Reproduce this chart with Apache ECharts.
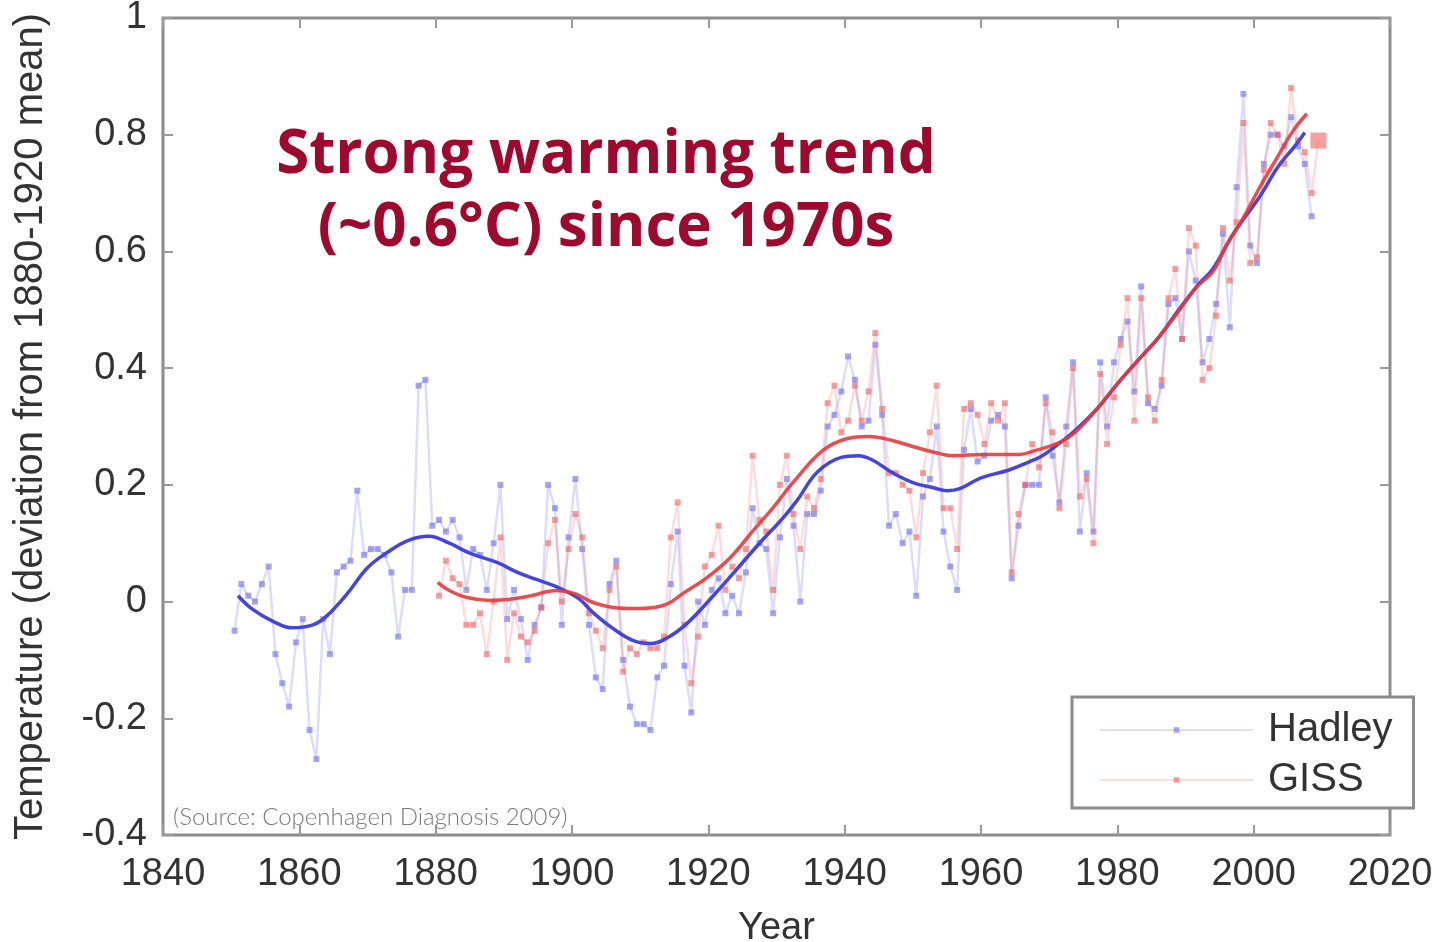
<!DOCTYPE html>
<html>
<head>
<meta charset="utf-8">
<script src="https://cdn.jsdelivr.net/npm/echarts@6/dist/echarts.min.js"></script>
<style>
  html, body { margin: 0; padding: 0; background: #ffffff; }
  #chart { width: 1438px; height: 942px; }
</style>
</head>
<body>
<div id="chart"></div>
<script>
// Annual global temperature anomalies (deg C, relative to the 1880-1920 mean)
const hadleyStartYear = 1850;
const hadleyValues = [
  -0.05, 0.03, 0.01, 0.00, 0.03, 0.06, -0.09, -0.14, -0.18, -0.07,   // 1850s
  -0.03, -0.22, -0.27, -0.03, -0.09, 0.05, 0.06, 0.07, 0.19, 0.08,   // 1860s
  0.09, 0.09, 0.08, 0.05, -0.06, 0.02, 0.02, 0.37, 0.38, 0.13,       // 1870s
  0.14, 0.12, 0.14, 0.11, 0.02, 0.09, 0.08, 0.02, 0.10, 0.20,        // 1880s
  -0.03, 0.02, -0.03, -0.10, -0.04, -0.01, 0.20, 0.16, -0.04, 0.11,  // 1890s
  0.21, 0.09, -0.04, -0.13, -0.15, 0.03, 0.07, -0.10, -0.18, -0.21,  // 1900s
  -0.21, -0.22, -0.13, -0.11, 0.03, 0.12, -0.11, -0.19, 0.00, -0.04, // 1910s
  0.02, 0.04, -0.02, 0.01, -0.02, 0.05, 0.16, 0.10, 0.09, -0.02,     // 1920s
  0.11, 0.21, 0.13, 0.00, 0.15, 0.15, 0.19, 0.30, 0.32, 0.36,        // 1930s
  0.42, 0.38, 0.30, 0.31, 0.44, 0.32, 0.13, 0.15, 0.10, 0.12,        // 1940s
  0.01, 0.18, 0.21, 0.30, 0.12, 0.06, 0.02, 0.26, 0.33, 0.24,        // 1950s
  0.25, 0.31, 0.32, 0.30, 0.04, 0.13, 0.20, 0.20, 0.20, 0.35,        // 1960s
  0.25, 0.17, 0.30, 0.41, 0.12, 0.22, 0.12, 0.41, 0.30, 0.41,        // 1970s
  0.45, 0.48, 0.36, 0.54, 0.34, 0.33, 0.37, 0.51, 0.52, 0.45,        // 1980s
  0.60, 0.55, 0.41, 0.45, 0.51, 0.63, 0.47, 0.71, 0.87, 0.61,        // 1990s
  0.58, 0.75, 0.80, 0.80, 0.78, 0.83, 0.78, 0.75, 0.66               // 2000s
];

const gissStartYear = 1880;
const gissValues = [
  0.01, 0.07, 0.04, 0.03, -0.04, -0.04, -0.02, -0.09, 0.00, 0.11,    // 1880s
  -0.10, -0.02, -0.06, -0.07, -0.05, -0.01, 0.10, 0.14, 0.00, 0.09,  // 1890s
  0.15, 0.11, -0.02, -0.05, -0.08, 0.02, 0.06, -0.12, -0.08, -0.09,  // 1900s
  -0.07, -0.08, -0.08, -0.06, 0.11, 0.17, -0.04, -0.14, -0.06, 0.06, // 1910s
  0.08, 0.13, 0.02, 0.06, 0.04, 0.09, 0.25, 0.14, 0.12, 0.02,        // 1920s
  0.20, 0.25, 0.15, 0.09, 0.18, 0.16, 0.21, 0.34, 0.37, 0.29,        // 1930s
  0.31, 0.37, 0.31, 0.36, 0.46, 0.33, 0.22, 0.22, 0.20, 0.19,        // 1940s
  0.11, 0.22, 0.29, 0.37, 0.16, 0.16, 0.09, 0.33, 0.34, 0.32,        // 1950s
  0.27, 0.34, 0.31, 0.34, 0.05, 0.15, 0.20, 0.27, 0.23, 0.34,        // 1960s
  0.29, 0.16, 0.27, 0.40, 0.18, 0.21, 0.10, 0.39, 0.27, 0.35,        // 1970s
  0.44, 0.52, 0.31, 0.52, 0.35, 0.31, 0.38, 0.52, 0.57, 0.45,        // 1980s
  0.64, 0.61, 0.38, 0.40, 0.49, 0.64, 0.55, 0.65, 0.82, 0.58,        // 1990s
  0.59, 0.74, 0.82, 0.80, 0.75, 0.88, 0.79, 0.77, 0.70, 0.79         // 2000s
];

// Smoothed trend curves
const hadleySmoothYears = [1851, 1853, 1856, 1859, 1862, 1864, 1867, 1870, 1873, 1876, 1879, 1882, 1885, 1889,
  1892, 1895, 1898, 1901, 1903, 1906, 1909, 1911.5, 1914, 1917, 1920.5, 1924, 1927.5, 1931, 1933, 1936,
  1939.5, 1942, 1944, 1947, 1950, 1953, 1955, 1957, 1960, 1964, 1967, 1969, 1971, 1973.5, 1977, 1980,
  1983, 1986, 1989, 1992, 1994, 1997, 2001, 2003.5, 2006, 2007.5];
const hadleySmoothValues = [0.01, -0.012, -0.033, -0.045, -0.04, -0.025, 0.013, 0.058, 0.085, 0.105, 0.112, 0.1, 0.083, 0.067,
  0.05, 0.037, 0.024, 0.005, -0.018, -0.046, -0.067, -0.072, -0.062, -0.036, 0.007, 0.053, 0.1, 0.144, 0.173, 0.222,
  0.247, 0.25, 0.243, 0.221, 0.204, 0.195, 0.19, 0.194, 0.212, 0.225, 0.239, 0.25, 0.267, 0.29, 0.33, 0.373,
  0.413, 0.452, 0.5, 0.545, 0.57, 0.63, 0.696, 0.744, 0.78, 0.804];

const gissSmoothYears = [1880.3, 1882, 1884.6, 1888, 1891.5, 1894, 1897.7, 1900.3, 1903.2, 1906, 1909.5, 1912, 1914,
  1916.3, 1919.8, 1923.2, 1926.6, 1929.5, 1932.5, 1936.8, 1940.3, 1943.6, 1947, 1950.5, 1953.4, 1955.8,
  1960.7, 1965.6, 1968, 1971.4, 1973.8, 1977, 1980, 1983, 1986, 1988.7, 1991.7, 1994, 1996, 1998.5,
  2000.9, 2003.4, 2005.8, 2007.8];
const gissSmoothValues = [0.033, 0.019, 0.007, 0.002, 0.005, 0.01, 0.019, 0.014, -0.002, -0.01, -0.012, -0.01, -0.004,
  0.014, 0.041, 0.075, 0.122, 0.161, 0.205, 0.259, 0.279, 0.283, 0.276, 0.264, 0.255, 0.25,
  0.252, 0.252, 0.259, 0.272, 0.29, 0.33, 0.373, 0.413, 0.452, 0.493, 0.54, 0.565, 0.61, 0.658,
  0.71, 0.76, 0.807, 0.836];

const xTickYears = [1840, 1860, 1880, 1900, 1920, 1940, 1960, 1980, 2000, 2020];
const yTickValues = [-0.4, -0.2, 0, 0.2, 0.4, 0.6, 0.8, 1];

// Annual means are plotted at the middle of each year
const annualPoints = (start, values) => values.map((v, i) => [start + i + 0.5, v]);
const pairs = (xs, ys) => xs.map((x, i) => [x, ys[i]]);

const gissPoints = annualPoints(gissStartYear, gissValues);
// the latest (partial-year) value is shown with a larger marker
gissPoints[gissPoints.length - 1] = { value: gissPoints[gissPoints.length - 1], symbolSize: 16 };

const FONT = '"Liberation Sans", Arial, Helvetica, sans-serif';
const FRAME = '#8c8c8c';

const chart = echarts.init(document.getElementById('chart'), null, { renderer: 'canvas' });

const tickStyle = { show: true, inside: true, length: 10, lineStyle: { color: '#9a9a9a', width: 2 } };
const hiddenLine = { show: false, onZero: false };

chart.setOption({
  animation: false,
  backgroundColor: '#ffffff',
  grid: {
    left: 163, top: 18, width: 1227, height: 817,
    outerBoundsMode: 'none', containLabel: false,
    show: true, borderColor: FRAME, borderWidth: 3, backgroundColor: 'transparent'
  },
  xAxis: [{
    type: 'value', min: xTickYears[0], max: xTickYears[xTickYears.length - 1], interval: 20,
    position: 'bottom',
    axisLine: hiddenLine, splitLine: { show: false }, axisTick: tickStyle,
    axisLabel: { fontSize: 38, color: '#333', fontFamily: FONT, margin: 21, formatter: v => String(v) },
    name: 'Year', nameLocation: 'middle', nameGap: 75,
    nameTextStyle: { fontSize: 38, color: '#333', fontFamily: FONT }
  }, {
    type: 'value', min: xTickYears[0], max: xTickYears[xTickYears.length - 1], interval: 20,
    position: 'top',
    axisLine: hiddenLine, splitLine: { show: false }, axisTick: tickStyle,
    axisLabel: { show: false }
  }],
  yAxis: [{
    type: 'value', min: yTickValues[0], max: yTickValues[yTickValues.length - 1], interval: 0.2,
    position: 'left',
    axisLine: hiddenLine, splitLine: { show: false }, axisTick: tickStyle,
    axisLabel: {
      fontSize: 38, color: '#333', fontFamily: FONT, margin: 16,
      formatter: v => String(Math.round(v * 10) / 10)
    },
    name: 'Temperature (deviation from 1880-1920 mean)', nameLocation: 'middle', nameGap: 112,
    nameTextStyle: { fontSize: 40, color: '#333', fontFamily: FONT }
  }, {
    type: 'value', min: yTickValues[0], max: yTickValues[yTickValues.length - 1], interval: 0.2,
    position: 'right',
    axisLine: hiddenLine, splitLine: { show: false }, axisTick: tickStyle,
    axisLabel: { show: false }
  }],
  legend: {
    data: ['Hadley', 'GISS'],
    orient: 'vertical',
    left: 1072, top: 697,
    padding: [13, 21, 8, 27],
    itemWidth: 153, itemHeight: 7, itemGap: 10,
    borderColor: FRAME, borderWidth: 3, backgroundColor: '#ffffff',
    textStyle: { fontSize: 40, color: '#333', fontFamily: FONT, lineHeight: 40, padding: [0, 0, 0, 10] }
  },
  series: [{
    name: 'Hadley', type: 'line',
    data: annualPoints(hadleyStartYear, hadleyValues),
    symbol: 'rect', symbolSize: 6,
    itemStyle: { color: 'rgba(105,105,240,0.6)' },
    lineStyle: { color: 'rgba(120,120,235,0.25)', width: 2.5 },
    z: 2
  }, {
    name: 'GISS', type: 'line',
    data: gissPoints,
    symbol: 'rect', symbolSize: 6,
    itemStyle: { color: 'rgba(240,95,95,0.6)' },
    lineStyle: { color: 'rgba(240,120,120,0.25)', width: 2.5 },
    z: 3
  }, {
    name: 'Hadley smoothed', type: 'line',
    data: pairs(hadleySmoothYears, hadleySmoothValues),
    smooth: 0.4, showSymbol: false,
    lineStyle: { color: '#4444e0', width: 3.5 },
    z: 4
  }, {
    name: 'GISS smoothed', type: 'line',
    data: pairs(gissSmoothYears, gissSmoothValues),
    smooth: 0.4, showSymbol: false,
    lineStyle: { color: '#e8383c', width: 3.5, opacity: 0.9 },
    z: 5
  }],
  graphic: [{
    type: 'text', x: 606, y: 192,
    style: {
      text: 'Strong warming trend\n(~0.6°C) since 1970s',
      font: 'bold 60px "Open Sans", Lato, sans-serif',
      fill: '#9e0a2d', align: 'center', verticalAlign: 'middle', lineHeight: 73
    },
    z: 20
  }, {
    type: 'text', left: 173, top: 805,
    style: {
      text: '(Source: Copenhagen Diagnosis 2009)',
      font: '300 24px Lato, "Open Sans", sans-serif',
      fill: '#7a7a7a'
    },
    z: 20
  }]
});
</script>
</body>
</html>
